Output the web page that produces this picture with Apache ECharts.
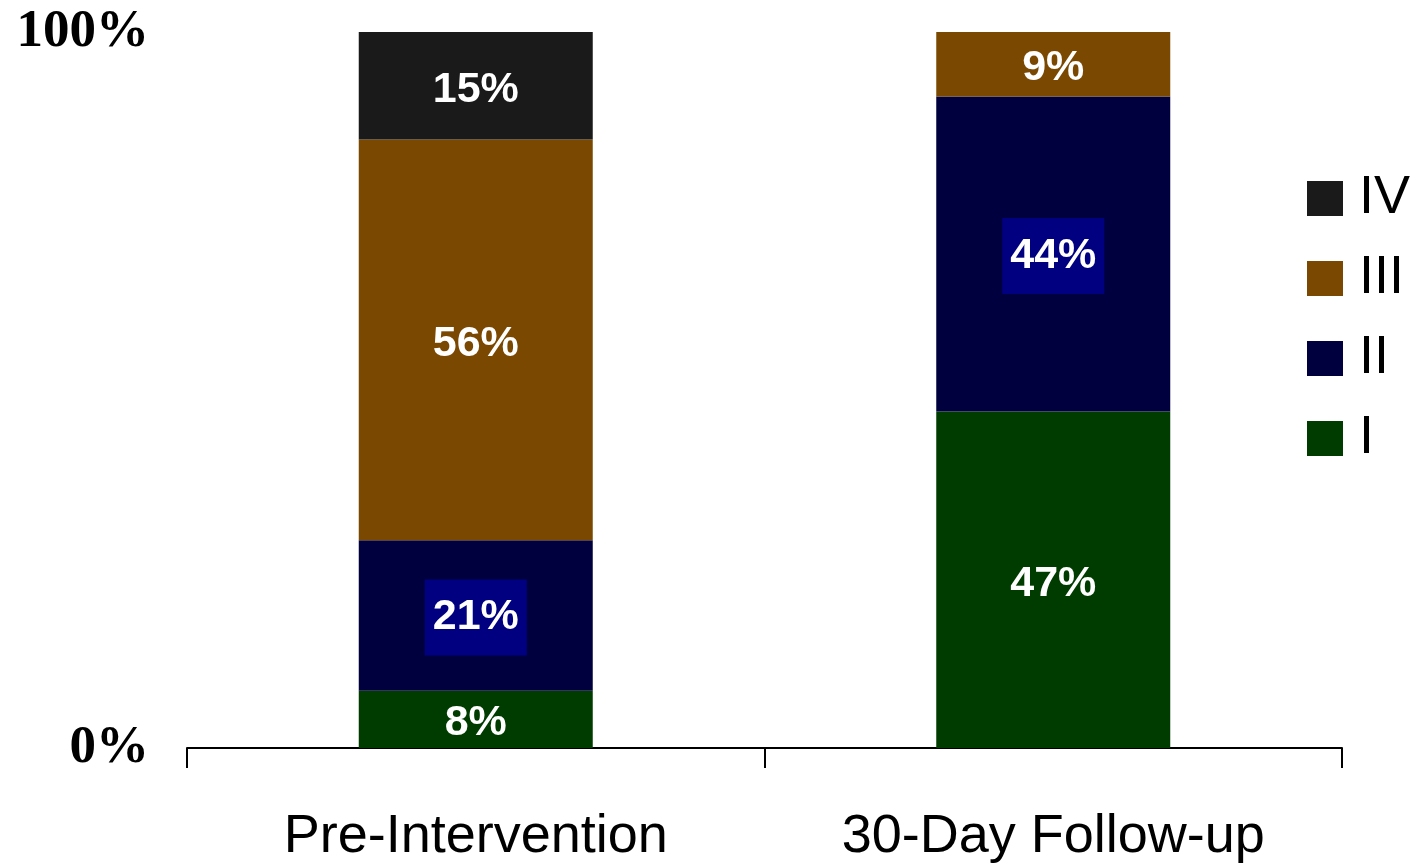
<!DOCTYPE html>
<html>
<head>
<meta charset="utf-8">
<script src="https://cdn.jsdelivr.net/npm/echarts@6/dist/echarts.min.js"></script>
<style>
html,body{margin:0;padding:0;background:#fff;}
#chart{width:1414px;height:864px;}
</style>
</head>
<body>
<div id="chart"></div>
<script>
const categories = ['Pre-Intervention', '30-Day Follow-up'];
const seriesNames = ['I', 'II', 'III', 'IV'];
const valuesI = [8, 47];
const valuesII = [21, 44];
const valuesIII = [56, 9];
const valuesIV = [15, 0];
const yMin = 0;
const yMax = 100;
const yInterval = 100;

const colors = { I: '#003c00', II: '#00003f', III: '#7a4800', IV: '#1a1a1a' };

const chart = echarts.init(document.getElementById('chart'));

function mkSeries(name, data, extraLabel) {
  return {
    name: name,
    type: 'bar',
    stack: 'total',
    data: data,
    barWidth: 234,
    itemStyle: { color: colors[name] },
    label: Object.assign({
      show: true,
      position: 'inside',
      color: '#ffffff',
      fontFamily: 'Liberation Sans',
      fontWeight: 'bold',
      fontSize: 43,
      lineHeight: 43,
      offset: [0, 4],
      formatter: p => (p.value ? p.value + '%' : '')
    }, extraLabel || {})
  };
}

chart.setOption({
  animation: false,
  backgroundColor: '#ffffff',
  grid: { left: 187, right: 72, top: 32, bottom: 116, containLabel: false },
  legend: {
    orient: 'vertical',
    left: 1307,
    top: 171.5,
    padding: 0,
    data: ['IV', 'III', 'II', 'I'],
    itemWidth: 36,
    itemHeight: 35,
    itemGap: 26,
    icon: 'rect',
    textStyle: {
      fontFamily: 'Liberation Sans',
      fontSize: 54,
      color: '#000',
      padding: [0, 0, 0, 11]
    }
  },
  xAxis: {
    type: 'category',
    data: categories,
    axisLine: { show: true, lineStyle: { color: '#000', width: 2 } },
    axisTick: { show: true, length: 20, lineStyle: { color: '#000', width: 2 } },
    axisLabel: {
      color: '#000',
      fontFamily: 'Liberation Sans',
      fontSize: 54,
      lineHeight: 54,
      margin: 62
    }
  },
  yAxis: {
    type: 'value',
    min: yMin,
    max: yMax,
    interval: yInterval,
    axisLine: { show: false },
    axisTick: { show: false },
    splitLine: { show: false },
    axisLabel: {
      color: '#000',
      fontFamily: 'Liberation Serif',
      fontWeight: 'bold',
      fontSize: 53,
      margin: 38,
      padding: [10, 0, 0, 0],
      formatter: '{value}%'
    }
  },
  series: [
    mkSeries('I', valuesI),
    mkSeries('II', valuesII, { backgroundColor: '#000080', padding: [19, 8, 14, 8], offset: [0, 2] }),
    mkSeries('III', valuesIII),
    mkSeries('IV', valuesIV)
  ]
});
</script>
</body>
</html>
